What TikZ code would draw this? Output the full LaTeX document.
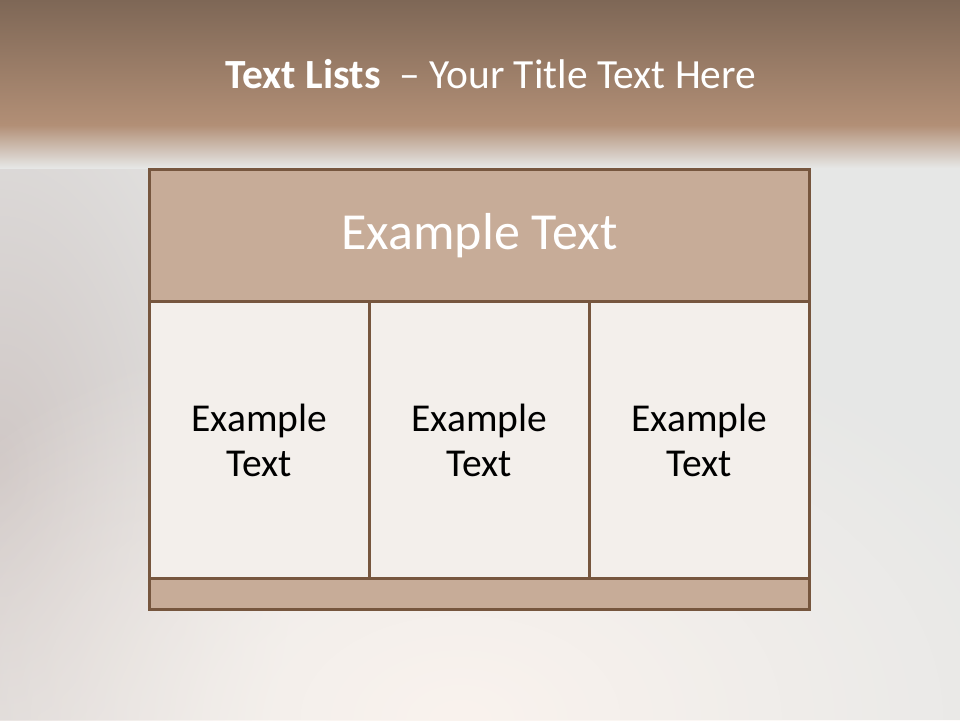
\documentclass[tikz,border=0pt]{standalone}
\usepackage{fontspec}
\setmainfont{Carlito}
\usetikzlibrary{positioning,fadings}
\definecolor{bgbase}{RGB}{230,231,230}
\definecolor{bgwarm}{RGB}{250,243,238}
\definecolor{bgleft}{RGB}{208,200,198}
\definecolor{bandtop}{RGB}{126,103,86}
\definecolor{bandlow}{RGB}{178,143,118}
\definecolor{tablebrown}{RGB}{118,86,62}
\definecolor{headfill}{RGB}{199,172,152}
\definecolor{cellfill}{RGB}{243,239,235}
\tikzfading[name=softspot, inner color=transparent!0, outer color=transparent!100]
\tikzset{
  headbox/.style={draw=tablebrown, line width=3pt, fill=headfill, anchor=north west,
    minimum width=660pt, minimum height=132pt, inner sep=0pt},
  cellbox/.style={draw=tablebrown, line width=3pt, fill=cellfill, anchor=north west,
    minimum width=220pt, minimum height=277pt, inner sep=0pt, align=center,
    font=\fontsize{39.5}{45}\selectfont},
  footbox/.style={draw=tablebrown, line width=3pt, fill=headfill, anchor=north west,
    minimum width=660pt, minimum height=31pt, inner sep=0pt},
  headtext/.style={font=\fontsize{52}{58}\selectfont, text=white},
}
\begin{document}
\begin{tikzpicture}[x=1pt,y=-1pt]
    % background
    \useasboundingbox (0,0) rectangle (960,720);
    \fill[bgbase] (0,0) rectangle (960,720);
    \fill[bgleft, path fading=softspot] (0,470) ellipse (300 and 560);
    \fill[bgwarm, path fading=softspot] (460,720) ellipse (640 and 420);
    \shade[top color=bandtop, bottom color=bandlow] (0,0) rectangle (960,125);
    \shade[top color=bandlow, bottom color=bgbase] (0,125) rectangle (960,168);

    % title
    \node[text=white, font=\fontsize{41.5}{48}\selectfont, anchor=base] (title) at (491,88)
      {\textbf{Text Lists}\ \ – Your Title Text Here};

    % table
    \node[headbox] (head) at (148,168) {};
    \node[cellbox] (cellA) at (148,300) {Example\\Text};
    \node[cellbox] (cellB) at (368,300) {Example\\Text};
    \node[cellbox] (cellC) at (588,300) {Example\\Text};
    \node[footbox] (foot) at (148,577) {};
    \node[headtext] (headlabel) at (head.center) {Example Text};
\end{tikzpicture}
\end{document}
